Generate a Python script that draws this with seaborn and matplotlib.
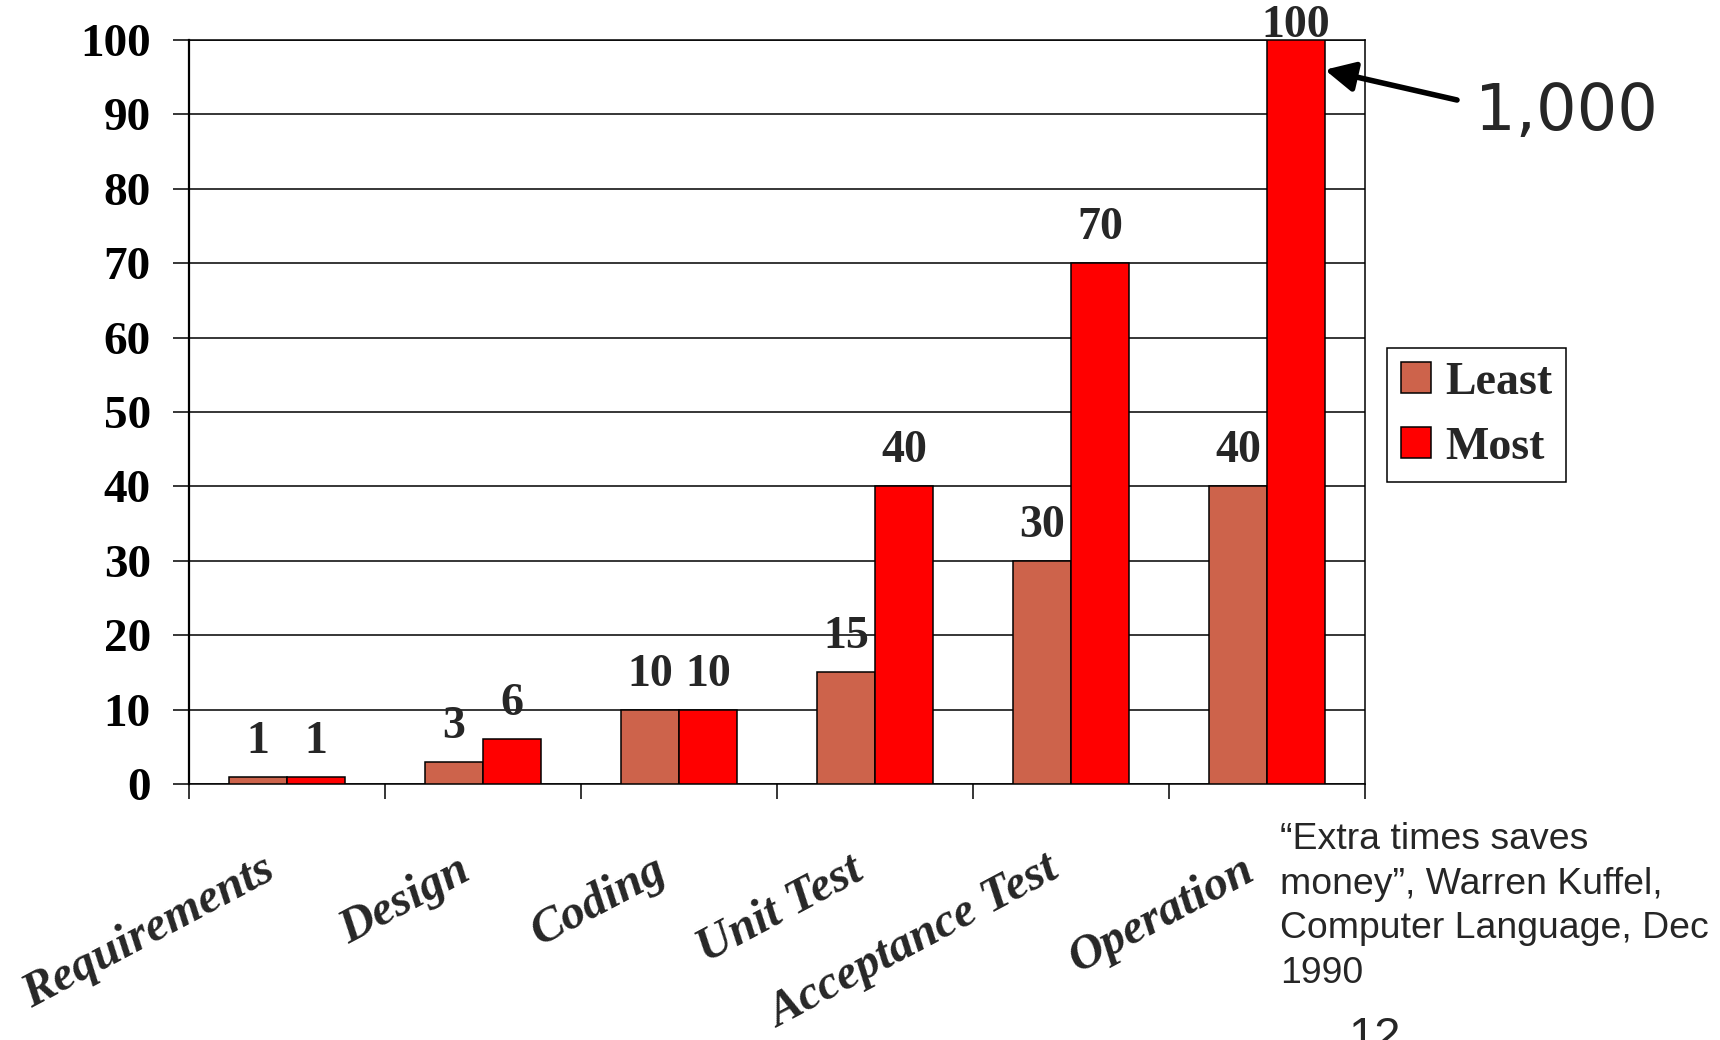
import numpy as np
import pandas as pd
import matplotlib
matplotlib.use("Agg")
import matplotlib.pyplot as plt
from matplotlib.transforms import ScaledTranslation
import seaborn as sns

# Relative cost of fixing an error, by the phase in which it is found
stages = ["Requirements", "Design", "Coding", "Unit Test", "Acceptance Test", "Operation"]
least = [1, 3, 10, 15, 30, 40]
most = [1, 6, 10, 40, 70, 100]
series_names = ["Least", "Most"]
y_ticks = [0, 10, 20, 30, 40, 50, 60, 70, 80, 90, 100]

least_color = "#CD634B"
most_color = "#FF0000"

df = pd.DataFrame({
    "stage": stages * 2,
    "cost": least + most,
    "series": [series_names[0]] * len(stages) + [series_names[1]] * len(stages),
})

sns.set_style("white")
plt.rcParams["font.family"] = ["Liberation Serif", "DejaVu Serif"]

fig = plt.figure(figsize=(17.2, 10.4), dpi=100)
ax = fig.add_axes([0.1099, 0.2462, 0.6837, 0.7153])

sns.barplot(data=df, x="stage", y="cost", hue="series", order=stages,
            hue_order=series_names, palette=[least_color, most_color],
            width=0.59, saturation=1, edgecolor="black", linewidth=1.1,
            legend=True, ax=ax, zorder=3)

ax.set_xlim(-0.5, len(stages) - 0.5)
ax.set_ylim(0, 100)
ax.set_xlabel("")
ax.set_ylabel("")

# horizontal rules at every 10 units, drawn behind the bars
ax.set_axisbelow(True)
ax.yaxis.grid(True, color="black", linewidth=1.1)
ax.xaxis.grid(False)
for s in ax.spines.values():
    s.set_visible(True)
    s.set_color("black")
    s.set_linewidth(1.1)
ax.spines["left"].set_linewidth(1.6)

ax.set_yticks(y_ticks)
ax.set_yticklabels([str(v) for v in y_ticks], fontsize=34, fontweight="bold")
ax.tick_params(axis="y", which="major", left=True, length=11.5, width=1.1,
               direction="out", pad=16, colors="black")

# category separators as minor ticks, labels on the (hidden) major ticks
ax.set_xticks(np.arange(-0.5, len(stages), 1.0), minor=True)
ax.tick_params(axis="x", which="minor", bottom=True, length=11, width=1.1,
               direction="out", color="black")
ax.set_xticks(range(len(stages)))
ax.set_xticklabels(stages, fontsize=35, fontweight="bold", fontstyle="italic",
                   rotation=28, ha="right", va="top", rotation_mode="anchor")
ax.tick_params(axis="x", which="major", length=0, pad=46)
shift = ScaledTranslation(-26 / 100, 0, fig.dpi_scale_trans)
for lab in ax.get_xticklabels():
    lab.set_transform(lab.get_transform() + shift)

# value labels above each bar
for cont in ax.containers:
    anns = ax.bar_label(cont, fmt="%g", padding=10, fontsize=33,
                        fontweight="bold", zorder=5)
    for ann, v in zip(anns, cont.datavalues):
        if v >= 100:
            ann.xyann = (0, -5)

# legend
handles, labels = ax.get_legend_handles_labels()
ax.legend(handles, labels, loc="upper left", bbox_to_anchor=(1387 / 1720, 1 - 348 / 1040),
          bbox_transform=fig.transFigure, borderaxespad=0, fancybox=False,
          edgecolor="black", framealpha=1, handlelength=0.67, handleheight=0.65,
          handletextpad=0.3, labelspacing=0.5, borderpad=0.3,
          prop={"family": "Liberation Serif", "weight": "bold", "size": 33})
ax.get_legend().get_frame().set_linewidth(1.1)

# off-scale marker for the largest value
ax.annotate("", xy=(5.295, 96), xycoords="data",
            xytext=(1457 / 1720, 1 - 100 / 1040), textcoords="figure fraction",
            arrowprops=dict(arrowstyle="-|>", lw=4, color="black",
                            mutation_scale=45, shrinkA=0, shrinkB=0),
            annotation_clip=False)
fig.text(1475 / 1720, 1 - 130 / 1040, "1,000", fontsize=46,
         family="DejaVu Sans", ha="left", va="baseline")

fig.text(1280 / 1720, 1 - 822 / 1040,
         "\u201cExtra times saves\nmoney\u201d, Warren Kuffel,\nComputer Language, Dec\n1990",
         fontsize=26.9, family="Liberation Sans", ha="left", va="top",
         linespacing=1.36)
fig.text(1348 / 1720, 1 - 1016 / 1040, "12", fontsize=34,
         family="Liberation Sans", ha="left", va="top")

fig.savefig("out.png", dpi=100, facecolor="white")
